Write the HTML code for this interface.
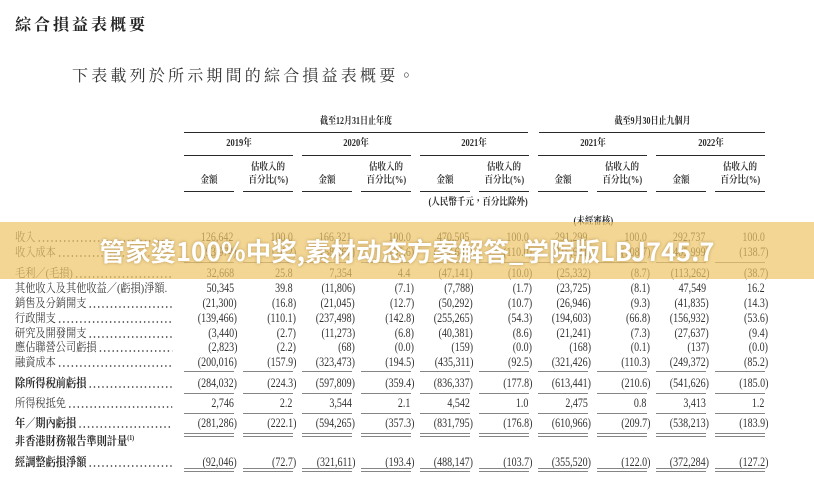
<!DOCTYPE html>
<html><head><meta charset="utf-8">
<style>
*{margin:0;padding:0;box-sizing:border-box}
html,body{width:814px;height:501px;overflow:hidden;background:#fff}
body{position:relative;font-family:"Liberation Serif","Noto Serif CJK TC",serif;color:#333}
.abs{position:absolute}
.title{left:15px;top:16px;font-size:16px;line-height:20px;font-weight:700;letter-spacing:3px;color:#222;font-family:"Liberation Serif","Noto Serif CJK TC",serif;white-space:nowrap}
.sub{left:72px;top:67px;font-size:16px;line-height:20px;letter-spacing:3.2px;color:#333;font-family:"Liberation Serif","Noto Serif CJK TC",serif;white-space:nowrap}
.ln{position:absolute;height:1.4px;background:#2a2a2a}
.ul{position:absolute;left:184px;width:581px;height:1.4px;background:repeating-linear-gradient(to right,#858585 0 50px,transparent 50px 59px)}
.h{position:absolute;width:200px;height:14px;line-height:14px;text-align:center;font-size:10px;font-weight:700;color:#2a2a2a;white-space:nowrap}
.h span{display:inline-block;transform:scaleX(.85);transform-origin:center}
.hn{font-weight:700;color:#333}
.r{position:absolute;left:0;width:814px;height:16px;line-height:16px}
.lab{position:absolute;left:15px;top:0;width:185px;display:flex;transform:scaleX(.85);transform-origin:left center;font-size:12px;white-space:nowrap;color:#3a3a3a}
.lab .d{flex:1;margin-left:2px;background-image:radial-gradient(circle,#555 0.75px,rgba(0,0,0,0) 1.1px);background-size:5px 4px;background-repeat:repeat-x;background-position:0 10px}
.b .lab{font-weight:700;color:#2a2a2a}
.v{position:absolute;top:0;width:53px;text-align:right;font-size:12.5px;white-space:nowrap}
.v span{display:inline-block;transform:scaleX(.8);transform-origin:right center}
.v span.p{padding-right:4px}
.c0{left:184px}.c1{left:243px}.c2{left:302px}.c3{left:361px}.c4{left:420px}
.c5{left:479px}.c6{left:538px}.c7{left:597px}.c8{left:656px}.c9{left:715px}
.banner{position:absolute;left:0;top:222px;width:814px;height:57px;background:rgba(238,196,102,0.7);display:flex;align-items:center;justify-content:center;z-index:10}
.banner div{font-family:"Noto Sans CJK SC","WenQuanYi Zen Hei",sans-serif;font-weight:700;font-size:25.5px;color:#fff;white-space:nowrap;text-shadow:0 0 3px rgba(120,80,20,.45);margin-top:-1px}
sup{font-size:7px;vertical-align:top;line-height:10px}
</style></head><body>

<div class="abs title">綜合損益表概要</div>
<div class="abs sub">下表載列於所示期間的綜合損益表概要。</div>

<!-- header -->
<div class="h" style="left:256px;top:115px"><span style="transform:scaleX(.8)">截至12月31日止年度</span></div>
<div class="h" style="left:552px;top:115px"><span style="transform:scaleX(.8)">截至9月30日止九個月</span></div>
<div class="ln" style="left:184px;top:131.5px;width:344px"></div>
<div class="ln" style="left:539px;top:131.5px;width:226px"></div>

<div class="h" style="left:138.5px;top:137px"><span>2019年</span></div>
<div class="h" style="left:256px;top:137px"><span>2020年</span></div>
<div class="h" style="left:374px;top:137px"><span>2021年</span></div>
<div class="h" style="left:493px;top:137px"><span>2021年</span></div>
<div class="h" style="left:611px;top:137px"><span>2022年</span></div>
<div class="abs" style="left:184px;top:154.5px;width:581px;height:1.4px;background:repeating-linear-gradient(to right,#2a2a2a 0 109px,transparent 109px 118px)"></div>

<div class="h hn" style="left:168px;top:161px"><span>估收入的</span></div>
<div class="h hn" style="left:286px;top:161px"><span>估收入的</span></div>
<div class="h hn" style="left:404px;top:161px"><span>估收入的</span></div>
<div class="h hn" style="left:522px;top:161px"><span>估收入的</span></div>
<div class="h hn" style="left:640px;top:161px"><span>估收入的</span></div>
<div class="h hn" style="left:168px;top:174px"><span>百分比(%)</span></div>
<div class="h hn" style="left:286px;top:174px"><span>百分比(%)</span></div>
<div class="h hn" style="left:404px;top:174px"><span>百分比(%)</span></div>
<div class="h hn" style="left:522px;top:174px"><span>百分比(%)</span></div>
<div class="h hn" style="left:640px;top:174px"><span>百分比(%)</span></div>
<div class="h hn" style="left:109px;top:174px"><span>金額</span></div>
<div class="h hn" style="left:227px;top:174px"><span>金額</span></div>
<div class="h hn" style="left:345px;top:174px"><span>金額</span></div>
<div class="h hn" style="left:463px;top:174px"><span>金額</span></div>
<div class="h hn" style="left:581px;top:174px"><span>金額</span></div>
<div class="abs" style="left:184px;top:190.5px;width:581px;height:1.4px;background:repeating-linear-gradient(to right,#2a2a2a 0 50px,transparent 50px 59px)"></div>

<div class="h" style="left:328px;top:196px;text-align:right"><span style="transform-origin:right center">(人民幣千元，百分比除外)</span></div>
<div class="h" style="left:493px;top:215px"><span>(未經審核)</span></div>

<!-- rows -->
<div class="r" style="top:229px"><div class="lab"><span>收入</span><span class="d"></span></div>
<div class="v c0"><span class="p">126,642</span></div><div class="v c1"><span class="p">100.0</span></div><div class="v c2"><span class="p">166,321</span></div><div class="v c3"><span class="p">100.0</span></div><div class="v c4"><span class="p">470,505</span></div><div class="v c5"><span class="p">100.0</span></div><div class="v c6"><span class="p">291,299</span></div><div class="v c7"><span class="p">100.0</span></div><div class="v c8"><span class="p">292,737</span></div><div class="v c9"><span class="p">100.0</span></div></div>

<div class="r" style="top:244px"><div class="lab"><span>收入成本</span><span class="d"></span></div>
<div class="v c0"><span>(93,974)</span></div><div class="v c1"><span>(74.2)</span></div><div class="v c2"><span>(158,967)</span></div><div class="v c3"><span>(95.6)</span></div><div class="v c4"><span>(517,646)</span></div><div class="v c5"><span>(110.0)</span></div><div class="v c6"><span>(316,631)</span></div><div class="v c7"><span>(108.7)</span></div><div class="v c8"><span>(405,999)</span></div><div class="v c9"><span>(138.7)</span></div></div>
<div class="ul" style="top:261.5px"></div>

<div class="r" style="top:265px"><div class="lab"><span>毛利／(毛損)</span><span class="d"></span></div>
<div class="v c0"><span class="p">32,668</span></div><div class="v c1"><span class="p">25.8</span></div><div class="v c2"><span class="p">7,354</span></div><div class="v c3"><span class="p">4.4</span></div><div class="v c4"><span>(47,141)</span></div><div class="v c5"><span>(10.0)</span></div><div class="v c6"><span>(25,332)</span></div><div class="v c7"><span>(8.7)</span></div><div class="v c8"><span>(113,262)</span></div><div class="v c9"><span>(38.7)</span></div></div>

<div class="r" style="top:280px"><div class="lab"><span>其他收入及其他收益／(虧損)淨額.</span></div>
<div class="v c0"><span class="p">50,345</span></div><div class="v c1"><span class="p">39.8</span></div><div class="v c2"><span>(11,806)</span></div><div class="v c3"><span>(7.1)</span></div><div class="v c4"><span>(7,788)</span></div><div class="v c5"><span>(1.7)</span></div><div class="v c6"><span>(23,725)</span></div><div class="v c7"><span>(8.1)</span></div><div class="v c8"><span class="p">47,549</span></div><div class="v c9"><span class="p">16.2</span></div></div>

<div class="r" style="top:295px"><div class="lab"><span>銷售及分銷開支</span><span class="d"></span></div>
<div class="v c0"><span>(21,300)</span></div><div class="v c1"><span>(16.8)</span></div><div class="v c2"><span>(21,045)</span></div><div class="v c3"><span>(12.7)</span></div><div class="v c4"><span>(50,292)</span></div><div class="v c5"><span>(10.7)</span></div><div class="v c6"><span>(26,946)</span></div><div class="v c7"><span>(9.3)</span></div><div class="v c8"><span>(41,835)</span></div><div class="v c9"><span>(14.3)</span></div></div>

<div class="r" style="top:309.5px"><div class="lab"><span>行政開支</span><span class="d"></span></div>
<div class="v c0"><span>(139,466)</span></div><div class="v c1"><span>(110.1)</span></div><div class="v c2"><span>(237,498)</span></div><div class="v c3"><span>(142.8)</span></div><div class="v c4"><span>(255,265)</span></div><div class="v c5"><span>(54.3)</span></div><div class="v c6"><span>(194,603)</span></div><div class="v c7"><span>(66.8)</span></div><div class="v c8"><span>(156,932)</span></div><div class="v c9"><span>(53.6)</span></div></div>

<div class="r" style="top:324.5px"><div class="lab"><span>研究及開發開支</span><span class="d"></span></div>
<div class="v c0"><span>(3,440)</span></div><div class="v c1"><span>(2.7)</span></div><div class="v c2"><span>(11,273)</span></div><div class="v c3"><span>(6.8)</span></div><div class="v c4"><span>(40,381)</span></div><div class="v c5"><span>(8.6)</span></div><div class="v c6"><span>(21,241)</span></div><div class="v c7"><span>(7.3)</span></div><div class="v c8"><span>(27,637)</span></div><div class="v c9"><span>(9.4)</span></div></div>

<div class="r" style="top:339px"><div class="lab"><span>應佔聯營公司虧損</span><span class="d"></span></div>
<div class="v c0"><span>(2,823)</span></div><div class="v c1"><span>(2.2)</span></div><div class="v c2"><span>(68)</span></div><div class="v c3"><span>(0.0)</span></div><div class="v c4"><span>(159)</span></div><div class="v c5"><span>(0.0)</span></div><div class="v c6"><span>(168)</span></div><div class="v c7"><span>(0.1)</span></div><div class="v c8"><span>(137)</span></div><div class="v c9"><span>(0.0)</span></div></div>

<div class="r" style="top:354px"><div class="lab"><span>融資成本</span><span class="d"></span></div>
<div class="v c0"><span>(200,016)</span></div><div class="v c1"><span>(157.9)</span></div><div class="v c2"><span>(323,473)</span></div><div class="v c3"><span>(194.5)</span></div><div class="v c4"><span>(435,311)</span></div><div class="v c5"><span>(92.5)</span></div><div class="v c6"><span>(321,426)</span></div><div class="v c7"><span>(110.3)</span></div><div class="v c8"><span>(249,372)</span></div><div class="v c9"><span>(85.2)</span></div></div>
<div class="ul" style="top:371px"></div>

<div class="r b" style="top:375px"><div class="lab"><span>除所得稅前虧損</span><span class="d"></span></div>
<div class="v c0"><span>(284,032)</span></div><div class="v c1"><span>(224.3)</span></div><div class="v c2"><span>(597,809)</span></div><div class="v c3"><span>(359.4)</span></div><div class="v c4"><span>(836,337)</span></div><div class="v c5"><span>(177.8)</span></div><div class="v c6"><span>(613,441)</span></div><div class="v c7"><span>(210.6)</span></div><div class="v c8"><span>(541,626)</span></div><div class="v c9"><span>(185.0)</span></div></div>
<div class="ul" style="top:392.5px"></div>

<div class="r" style="top:395px"><div class="lab"><span>所得稅抵免</span><span class="d"></span></div>
<div class="v c0"><span class="p">2,746</span></div><div class="v c1"><span class="p">2.2</span></div><div class="v c2"><span class="p">3,544</span></div><div class="v c3"><span class="p">2.1</span></div><div class="v c4"><span class="p">4,542</span></div><div class="v c5"><span class="p">1.0</span></div><div class="v c6"><span class="p">2,475</span></div><div class="v c7"><span class="p">0.8</span></div><div class="v c8"><span class="p">3,413</span></div><div class="v c9"><span class="p">1.2</span></div></div>
<div class="ul" style="top:412.5px"></div>

<div class="r b" style="top:415px"><div class="lab"><span>年／期內虧損</span><span class="d"></span></div>
<div class="v c0"><span>(281,286)</span></div><div class="v c1"><span>(222.1)</span></div><div class="v c2"><span>(594,265)</span></div><div class="v c3"><span>(357.3)</span></div><div class="v c4"><span>(831,795)</span></div><div class="v c5"><span>(176.8)</span></div><div class="v c6"><span>(610,966)</span></div><div class="v c7"><span>(209.7)</span></div><div class="v c8"><span>(538,213)</span></div><div class="v c9"><span>(183.9)</span></div></div>
<div class="ul" style="top:432.5px"></div>
<div class="ul" style="top:435.5px"></div>

<div class="r b" style="top:433px"><div class="lab"><span>非香港財務報告準則計量<sup>(1)</sup></span></div></div>

<div class="r b" style="top:454px"><div class="lab"><span>經調整虧損淨額</span><span class="d"></span></div>
<div class="v c0"><span>(92,046)</span></div><div class="v c1"><span>(72.7)</span></div><div class="v c2"><span>(321,611)</span></div><div class="v c3"><span>(193.4)</span></div><div class="v c4"><span>(488,147)</span></div><div class="v c5"><span>(103.7)</span></div><div class="v c6"><span>(355,520)</span></div><div class="v c7"><span>(122.0)</span></div><div class="v c8"><span>(372,284)</span></div><div class="v c9"><span>(127.2)</span></div></div>
<div class="ul" style="top:467.5px"></div>
<div class="ul" style="top:470.5px"></div>

<div class="banner"><div>管家婆100%中奖,素材动态方案解答_学院版LBJ745.7</div></div>

</body></html>
